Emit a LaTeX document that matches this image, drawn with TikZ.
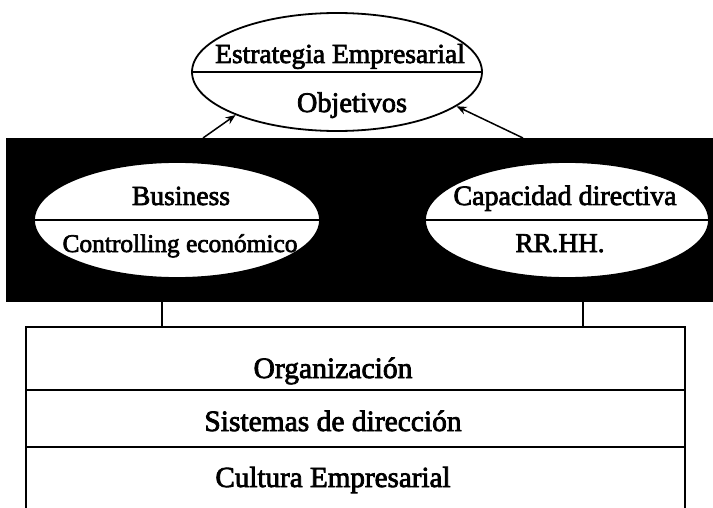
\documentclass[tikz,border=0pt]{standalone}
\usepackage{fontspec}
\setmainfont{Liberation Serif}
\newfontfamily\scanfont{Liberation Serif}[FakeBold=2.6]
\usetikzlibrary{shapes.geometric,arrows.meta}
\tikzset{
  lbl/.style={font=\scanfont\fontsize{#1}{30}\selectfont, inner sep=0pt, anchor=base},
  lbl/.default=27.5,
  oval/.style={ellipse, draw=black, fill=white, line width=1.8pt, inner sep=0pt},
  ln/.style={line width=1.8pt},
  arr/.style={line width=1.5pt, -{Stealth[length=10pt,width=8pt]}},
}
\begin{document}
\begin{tikzpicture}[x=1pt,y=-1pt]
\useasboundingbox (0,0) rectangle (713,508);
% black band
\node[fill=black, draw=none, inner sep=0pt, minimum width=707pt, minimum height=164pt, anchor=north west] (band) at (6,138) {};
% top ellipse
\node[oval, minimum width=290pt, minimum height=118pt] (top) at (337,72) {};
\draw[ln] (top.west) -- (top.east);
\node[lbl=27.5] (t1) at (340,63) {Estrategia Empresarial};
\node[lbl=28.3] (t2) at (352,112) {Objetivos};
% left ellipse
\node[oval, minimum width=286pt, minimum height=116pt] (lell) at (177,220) {};
\draw[ln] (lell.west) -- (lell.east);
\node[lbl=27.6] (l1) at (181,205) {Business};
\node[lbl=25.4] (l2) at (180,252) {Controlling económico};
% right ellipse
\node[oval, minimum width=284pt, minimum height=116pt] (rell) at (567,220) {};
\draw[ln] (rell.west) -- (rell.east);
\node[lbl=28] (r1) at (565,205) {Capacidad directiva};
\node[lbl=27.2] (r2) at (560,252) {RR.HH.};
% arrows
\coordinate (a1) at (203,138);
\coordinate (a2) at (523,138);
\draw[arr] (a1) -- (top.-157);
\draw[arr] (a2) -- (top.-16);
% bottom box
\coordinate (bl) at (26,510);
\coordinate (tl) at (26,327);
\coordinate (tr) at (685,327);
\coordinate (br) at (685,510);
\draw[ln] (bl) -- (tl) -- (tr) -- (br);
\coordinate (d1l) at (26,390);
\coordinate (d1r) at (685,390);
\coordinate (d2l) at (26,447);
\coordinate (d2r) at (685,447);
\draw[ln] (d1l) -- (d1r);
\draw[ln] (d2l) -- (d2r);
\node[lbl=29.6] (o1) at (333,378) {Organización};
\node[lbl=29.5] (o2) at (333,431) {Sistemas de dirección};
\node[lbl=29.1] (o3) at (333,487) {Cultura Empresarial};
% connectors band -> box
\coordinate (v1a) at (162,302);
\coordinate (v1b) at (162,327);
\coordinate (v2a) at (583,302);
\coordinate (v2b) at (583,327);
\draw[ln] (v1a) -- (v1b);
\draw[ln] (v2a) -- (v2b);
\end{tikzpicture}
\end{document}
